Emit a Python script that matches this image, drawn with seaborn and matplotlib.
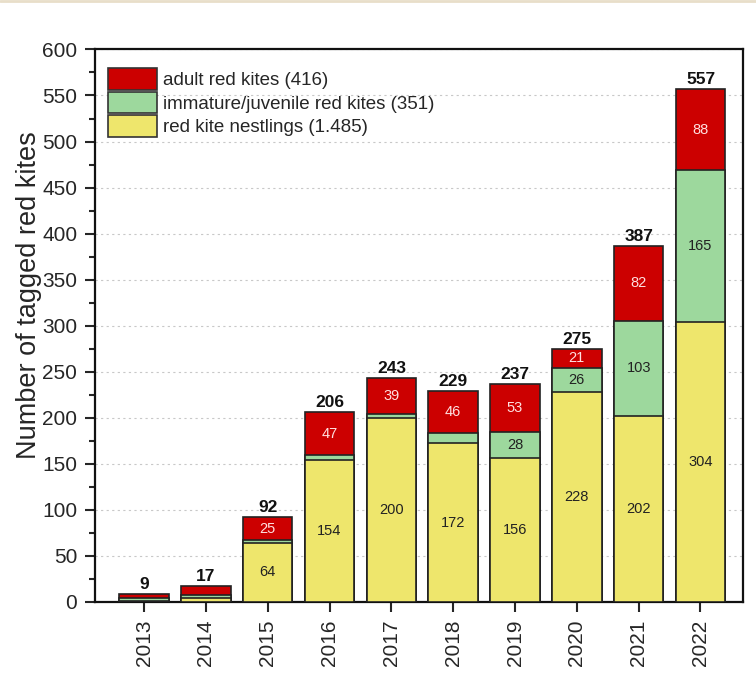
import numpy as np
import pandas as pd
import seaborn as sns
import matplotlib.pyplot as plt
from matplotlib.patches import Patch
from matplotlib.lines import Line2D

years = ['2013', '2014', '2015', '2016', '2017', '2018', '2019', '2020', '2021', '2022']
nestlings = [1, 4, 64, 154, 200, 172, 156, 228, 202, 304]
immature = [3, 3, 3, 5, 4, 11, 28, 26, 103, 165]
adults = [5, 10, 25, 47, 39, 46, 53, 21, 82, 88]

# which segment values get printed inside the bars
show_nest = [False, False, True, True, True, True, True, True, True, True]
show_imm = [False, False, False, False, False, False, True, True, True, True]
show_adult = [False, False, True, True, True, True, True, True, True, True]

legend_labels = ['adult red kites (416)', 'immature/juvenile red kites (351)',
                 'red kite nestlings (1.485)']

c_red = '#CC0000'
c_green = '#9DD89D'
c_yellow = '#EEE66C'

sns.set_style('white')
plt.rcParams['font.family'] = ['Liberation Sans Narrow', 'Liberation Sans', 'DejaVu Sans']

df = pd.DataFrame({'year': years, 'nest': nestlings, 'imm': immature, 'adult': adults})
df['lower2'] = df['nest'] + df['imm']
df['total'] = df['lower2'] + df['adult']

fig, ax = plt.subplots(figsize=(7.56, 6.87), dpi=100)
fig.subplots_adjust(left=0.126, right=0.983, top=0.928, bottom=0.124)

# stacked by overdrawing the cumulative heights
for col, colr in [('total', c_red), ('lower2', c_green), ('nest', c_yellow)]:
    sns.barplot(data=df, x='year', y=col, color=colr, width=0.8, errorbar=None,
                edgecolor='#222222', linewidth=1.2, saturation=1, ax=ax, zorder=3)

for i in range(len(years)):
    n, im, a = nestlings[i], immature[i], adults[i]
    if show_nest[i]:
        ax.text(i, n / 2, str(n), ha='center', va='center', fontsize=10.5, color='#222222', zorder=5)
    if show_imm[i]:
        ax.text(i, n + im / 2, str(im), ha='center', va='center', fontsize=10.5, color='#222222', zorder=5)
    if show_adult[i]:
        ax.text(i, n + im + a / 2, str(a), ha='center', va='center', fontsize=10.5, color='#FFE0E0', zorder=5)
    tot = n + im + a
    ax.text(i, tot + 2, str(tot), ha='center', va='bottom', fontsize=12.5, fontweight='bold',
            color='#111111', zorder=5)

ax.set_xlim(-0.79, 9.69)
ax.set_ylim(0, 600)
ax.set_yticks(np.arange(0, 601, 50))
ax.set_yticks(np.arange(25, 600, 50), minor=True)
ax.yaxis.grid(True, which='major', linestyle=(0, (2, 3)), color='#C8C8C8', linewidth=0.8, zorder=0)
ax.set_axisbelow(True)

ax.tick_params(axis='y', which='major', direction='out', length=7, width=1.5, left=True,
               labelsize=15, pad=6)
ax.tick_params(axis='y', which='minor', direction='out', length=4, width=1.5, left=True)
ax.tick_params(axis='x', which='major', direction='out', length=7, width=1.5, bottom=True,
               labelsize=15, labelrotation=90, pad=6)

for s in ax.spines.values():
    s.set_color('#111111')
    s.set_linewidth(1.6)

ax.set_xlabel('')
ax.set_ylabel('Number of tagged red kites', fontsize=19.5)
ax.yaxis.set_label_coords(-0.082, 0.556)

handles = [Patch(facecolor=c_red, edgecolor='#333333', linewidth=1.2),
           Patch(facecolor=c_green, edgecolor='#333333', linewidth=1.2),
           Patch(facecolor=c_yellow, edgecolor='#333333', linewidth=1.2)]
ax.legend(handles, legend_labels, loc='upper left', frameon=False, fontsize=13.5,
          handlelength=2.6, handleheight=1.4, handletextpad=0.35, labelspacing=0.1,
          borderaxespad=0.1, bbox_to_anchor=(0.005, 0.983))

fig.add_artist(Line2D([0, 1], [0.999, 0.999], transform=fig.transFigure, color='#E8DEC9', linewidth=2))

fig.savefig('out.png', dpi=100)
